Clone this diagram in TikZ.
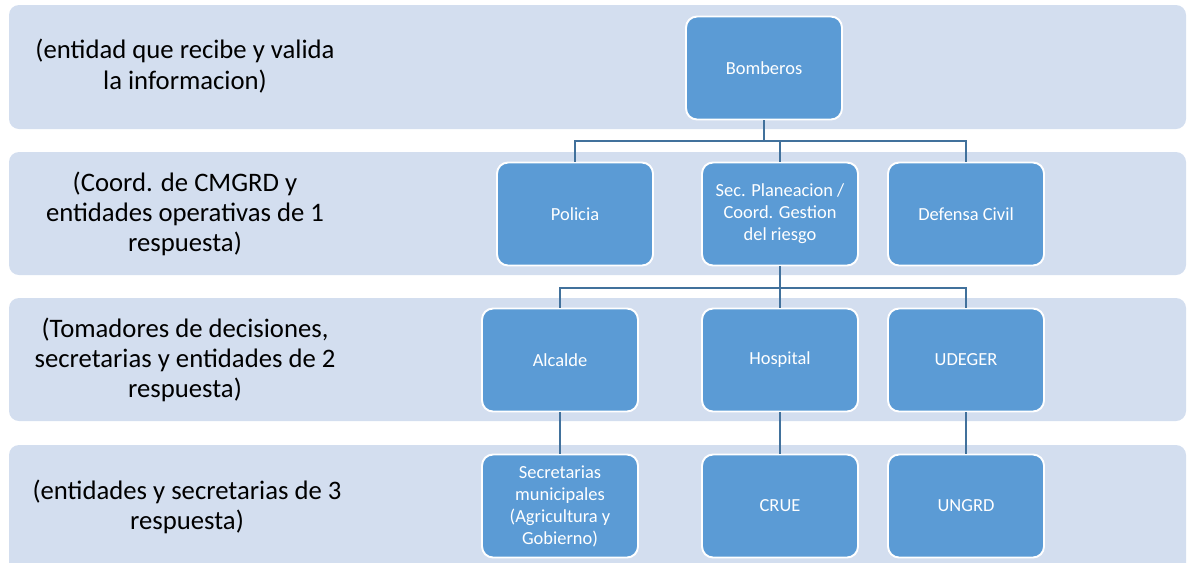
\documentclass[tikz,border=0pt]{standalone}
\usepackage{fontspec}
\setmainfont{Carlito}
\usepackage{xcolor}
\usepackage{tikz}

\definecolor{bandblue}{HTML}{D3DEEF}
\definecolor{boxblue}{HTML}{5B9BD5}
\definecolor{lineblue}{HTML}{41719C}

\begin{document}
\begin{tikzpicture}[x=0.02cm, y=-0.02cm,
    band/.style={fill=bandblue, draw=none, rounded corners=0.2cm},
    unit/.style={fill=boxblue, draw=white, line width=1.1pt, rounded corners=0.22cm,
        minimum width=3.12cm, minimum height=2.06cm, text=white, align=center,
        font=\fontsize{10.5}{12.5}\selectfont},
    level/.style={align=center, font=\fontsize{15.2}{17.2}\selectfont},
    link/.style={draw=lineblue, line width=1.1pt}]
             \useasboundingbox (0,0) rectangle (1187,562);

             % franjas
             \fill[band] (9,5) rectangle (1186,129);
             \fill[band] (9,152) rectangle (1186,275);
             \fill[band] (9,298) rectangle (1186,421);
             \fill[band] (9,445) rectangle (1186,580);

             \node[level] (lvl1) at (185, 66) {(entidad que recibe y valida\\la informacion)};
             \node[level] (lvl2) at (185, 214) {(Coord. de CMGRD y\\entidades operativas de 1\\respuesta)};
             \node[level] (lvl3) at (185, 360) {(Tomadores de decisiones,\\secretarias y entidades de 2\\respuesta)};
             \node[level] (lvl4) at (187, 507) {(entidades y secretarias de 3\\respuesta)};

             % cajas
             \node[unit] (bomb) at (764, 68) {Bomberos};

             \node[unit] (pol) at (575, 214) {Policia};
             \node[unit] (sec) at (780, 214) {Sec. Planeacion /\\Coord. Gestion\\del riesgo};
             \node[unit] (def) at (966, 214) {Defensa Civil};

             \node[unit] (alc) at (560, 360) {Alcalde};
             \node[unit] (hos) at (780, 360) {Hospital};
             \node[unit] (ude) at (966, 360) {UDEGER};

             \node[unit] (secm) at (560, 506) {Secretarias\\municipales\\(Agricultura y\\Gobierno)};
             \node[unit] (crue) at (780, 506) {CRUE};
             \node[unit] (ungrd) at (966, 506) {UNGRD};

             % conectores
             \coordinate (split1) at (764, 141);
             \coordinate (split2) at (780, 288);

             \draw[link] (bomb.south) -- (split1);
             \draw[link] (pol.north) |- (split1) -| (def.north);
             \draw[link] (sec.north) -- (sec.north |- split1);

             \draw[link] (sec.south) -- (split2);
             \draw[link] (alc.north) |- (split2) -| (ude.north);
             \draw[link] (hos.north) -- (split2);

             \draw[link] (alc.south) -- (secm.north);
             \draw[link] (hos.south) -- (crue.north);
             \draw[link] (ude.south) -- (ungrd.north);
\end{tikzpicture}
\end{document}
